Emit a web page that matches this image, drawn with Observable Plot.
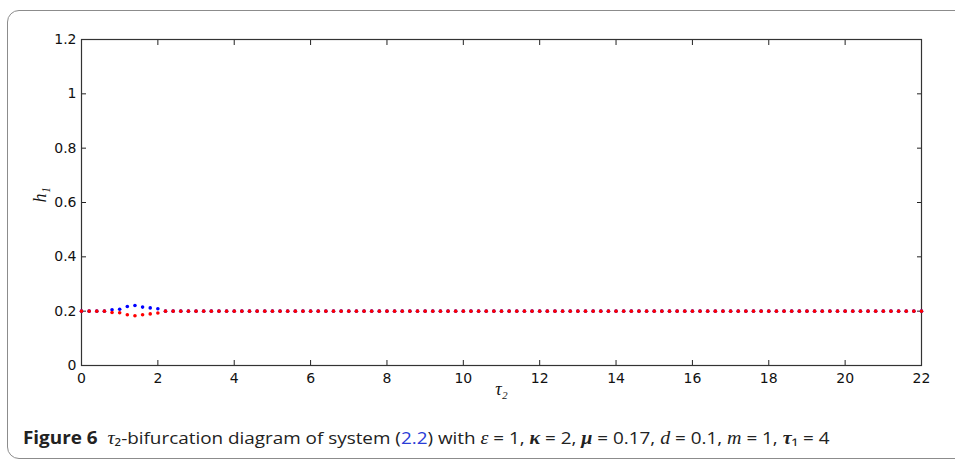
<!DOCTYPE html>
<html>
<head>
<meta charset="utf-8">
<script src="https://cdn.jsdelivr.net/npm/d3@7"></script>
<script src="https://cdn.jsdelivr.net/npm/@observablehq/plot@0.6"></script>
<style>
  html, body { margin: 0; padding: 0; background: #fff; overflow: hidden; }
  #wrap { position: relative; width: 955px; height: 463px; overflow: hidden; }
  #box { position: absolute; left: 7px; top: 10px; width: 970px; height: 449px;
         border: 1.5px solid #8c8c8c; border-radius: 12px; box-sizing: border-box; }
  #chart { position: absolute; left: 0; top: 0; }
  #caption { position: absolute; left: 23px; top: 426px; white-space: nowrap;
             font-family: "Open Sans", "Noto Sans", sans-serif; font-size: 17px; color: #222;
             transform-origin: 0 0; transform: scaleX(1.11); }
  #caption b { font-weight: 700; }
  #caption .m { font-family: "Liberation Serif", "DejaVu Serif", serif; font-style: italic; font-size: 18px; }
  #caption .mb { font-family: "Liberation Serif", "DejaVu Serif", serif; font-style: italic; font-weight: 700; font-size: 18px; }
  #caption a { color: #2a3cd6; text-decoration: none; }
</style>
</head>
<body>
<div id="wrap">
  <div id="box"></div>
  <div id="chart"></div>
  <div id="caption"><b>Figure 6</b>&nbsp;&nbsp;<span class="m">τ</span>₂-bifurcation diagram of system (<a>2.2</a>) with <span class="m">ε</span> = 1, <span class="mb">κ</span> = 2, <span class="mb">μ</span> = 0.17, <span class="m">d</span> = 0.1, <span class="m">m</span> = 1, <span class="mb">τ</span>₁ = 4</div>
</div>
<script>
const tau = [0,0.2,0.4,0.6,0.8,1,1.2,1.4,1.6,1.8,2,2.2,2.4,2.6,2.8,3,3.2,3.4,3.6,3.8,4,4.2,4.4,4.6,4.8,5,5.2,5.4,5.6,5.8,6,6.2,6.4,6.6,6.8,7,7.2,7.4,7.6,7.8,8,8.2,8.4,8.6,8.8,9,9.2,9.4,9.6,9.8,10,10.2,10.4,10.6,10.8,11,11.2,11.4,11.6,11.8,12,12.2,12.4,12.6,12.8,13,13.2,13.4,13.6,13.8,14,14.2,14.4,14.6,14.8,15,15.2,15.4,15.6,15.8,16,16.2,16.4,16.6,16.8,17,17.2,17.4,17.6,17.8,18,18.2,18.4,18.6,18.8,19,19.2,19.4,19.6,19.8,20,20.2,20.4,20.6,20.8,21,21.2,21.4,21.6,21.8,22];
const hBlue = [0.2,0.2,0.2,0.2,0.205,0.207,0.217,0.221,0.215,0.212,0.209,0.2,0.2,0.2,0.2,0.2,0.2,0.2,0.2,0.2,0.2,0.2,0.2,0.2,0.2,0.2,0.2,0.2,0.2,0.2,0.2,0.2,0.2,0.2,0.2,0.2,0.2,0.2,0.2,0.2,0.2,0.2,0.2,0.2,0.2,0.2,0.2,0.2,0.2,0.2,0.2,0.2,0.2,0.2,0.2,0.2,0.2,0.2,0.2,0.2,0.2,0.2,0.2,0.2,0.2,0.2,0.2,0.2,0.2,0.2,0.2,0.2,0.2,0.2,0.2,0.2,0.2,0.2,0.2,0.2,0.2,0.2,0.2,0.2,0.2,0.2,0.2,0.2,0.2,0.2,0.2,0.2,0.2,0.2,0.2,0.2,0.2,0.2,0.2,0.2,0.2,0.2,0.2,0.2,0.2,0.2,0.2,0.2,0.2,0.2,0.2];
const hRed = [0.2,0.2,0.2,0.2,0.195,0.194,0.187,0.183,0.187,0.190,0.193,0.2,0.2,0.2,0.2,0.2,0.2,0.2,0.2,0.2,0.2,0.2,0.2,0.2,0.2,0.2,0.2,0.2,0.2,0.2,0.2,0.2,0.2,0.2,0.2,0.2,0.2,0.2,0.2,0.2,0.2,0.2,0.2,0.2,0.2,0.2,0.2,0.2,0.2,0.2,0.2,0.2,0.2,0.2,0.2,0.2,0.2,0.2,0.2,0.2,0.2,0.2,0.2,0.2,0.2,0.2,0.2,0.2,0.2,0.2,0.2,0.2,0.2,0.2,0.2,0.2,0.2,0.2,0.2,0.2,0.2,0.2,0.2,0.2,0.2,0.2,0.2,0.2,0.2,0.2,0.2,0.2,0.2,0.2,0.2,0.2,0.2,0.2,0.2,0.2,0.2,0.2,0.2,0.2,0.2,0.2,0.2,0.2,0.2,0.2,0.2];
const xTicks = [0,2,4,6,8,10,12,14,16,18,20,22];
const yTicks = [0,0.2,0.4,0.6,0.8,1,1.2];
const xLabel = "τ₂";
const yLabel = "h₁";

const blueData = tau.map((t, i) => ({t, h: hBlue[i]}));
const redData = tau.map((t, i) => ({t, h: hRed[i]}));

const sans = "DejaVu Sans, sans-serif";
const serif = "Liberation Serif, DejaVu Serif, serif";
const chart = Plot.plot({
  width: 955,
  height: 400,
  marginLeft: 81,
  marginRight: 34,
  marginTop: 39,
  marginBottom: 35,
  style: {fontFamily: sans, fontSize: "14px", color: "#111", background: "transparent", overflow: "visible"},
  x: {domain: [0, 22]},
  y: {domain: [0, 1.2]},
  marks: [
    Plot.axisX(xTicks, {anchor: "bottom", tickSize: -5, tickPadding: 13, tickFormat: d => String(d), label: null, stroke: "#222", fontSize: 14, fontFamily: sans}),
    Plot.axisX(xTicks, {anchor: "top", tickSize: -5, tickFormat: () => "", label: null, stroke: "#222"}),
    Plot.axisY(yTicks, {anchor: "left", tickSize: -5, tickPadding: 10, tickFormat: d => String(d), label: null, stroke: "#222", fontSize: 14, fontFamily: sans}),
    Plot.axisY(yTicks, {anchor: "right", tickSize: -5, tickFormat: () => "", label: null, stroke: "#222"}),
    Plot.frame({stroke: "#333", strokeWidth: 1.2}),
    Plot.dot(blueData, {x: "t", y: "h", r: 1.8, fill: "#0000ff", stroke: "none"}),
    Plot.dot(redData, {x: "t", y: "h", r: 1.8, fill: "#ff0000", stroke: "none"}),
    Plot.text([xLabel], {frameAnchor: "bottom", dy: 29, fontSize: 18, fontFamily: serif, fontStyle: "italic", fill: "#111"}),
    Plot.text([yLabel], {frameAnchor: "left", dx: -41, rotate: -90, fontSize: 18, fontFamily: serif, fontStyle: "italic", fill: "#111"})
  ]
});
document.getElementById("chart").appendChild(chart);
</script>
</body>
</html>
